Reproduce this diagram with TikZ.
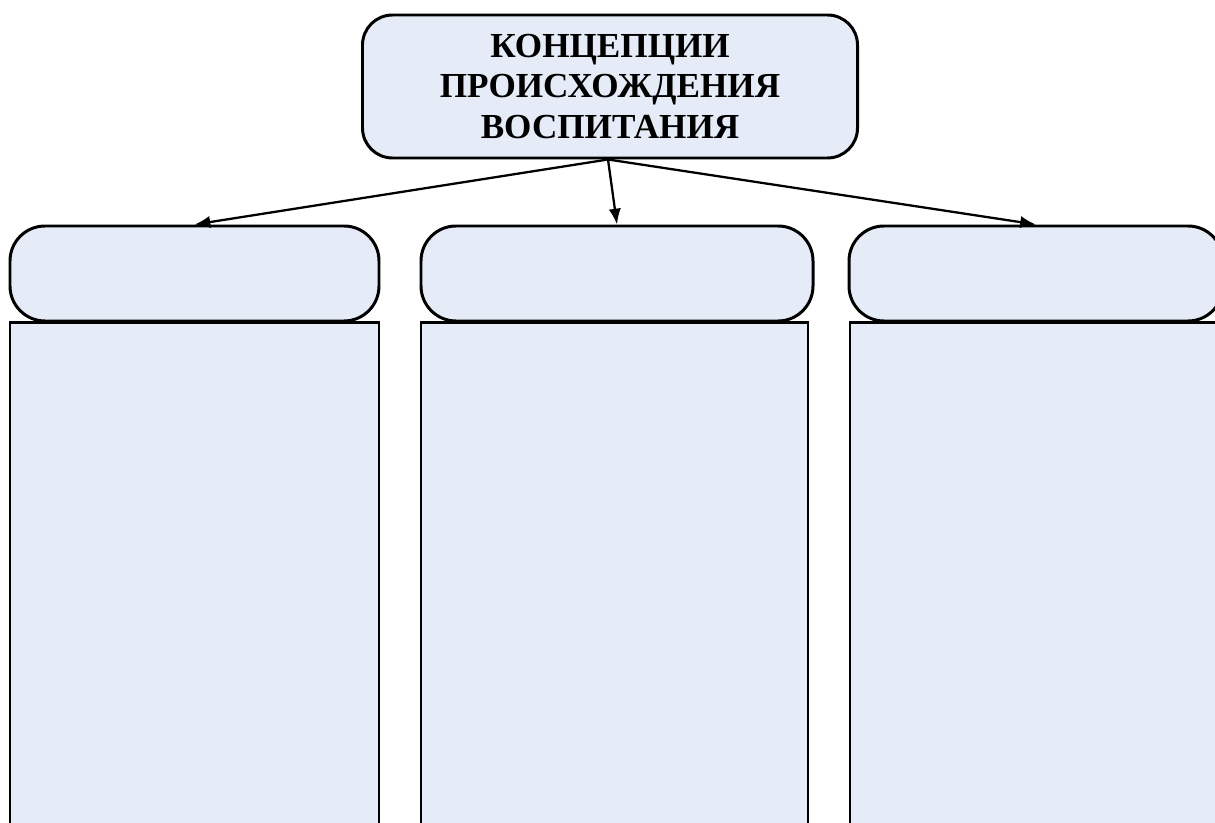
\documentclass[tikz,border=0pt]{standalone}
\usepackage{fontspec}
\setmainfont{Liberation Serif}
\usepackage{tikz}
\usetikzlibrary{arrows.meta}
\usetikzlibrary{positioning}
\definecolor{boxfill}{RGB}{230,236,247}
\tikzset{>=latex}
\tikzstyle{topbox} = [draw, line width=1.7pt, fill=boxfill, rounded corners=0.6cm, align=center, font=\bfseries\fontsize{20}{23.3}\selectfont]
\tikzstyle{headbox} = [draw, line width=1.7pt, fill=boxfill, rounded corners=0.7cm]
\tikzstyle{colbox} = [draw, line width=1.5pt, fill=boxfill, anchor=north]
\tikzstyle{link} = [-{Latex[length=9pt,width=7pt]}, line width=1.3pt]

\begin{document}
\begin{tikzpicture}
\useasboundingbox (0,0) rectangle (24.3,-16.46);
\clip (0,0) rectangle (24.3,-16.46);
\node [topbox, minimum width=9.9cm, minimum height=2.86cm] (T) at (12.2, -1.73) {КОНЦЕПЦИИ\\ПРОИСХОЖДЕНИЯ\\ВОСПИТАНИЯ};
% columns
\node [colbox, minimum width=7.38cm, minimum height=11cm] (C1) at (3.89, -6.42) {};
\node [colbox, minimum width=7.74cm, minimum height=11cm] (C2) at (12.29, -6.42) {};
\node [colbox, minimum width=7.46cm, minimum height=11cm] (C3) at (20.73, -6.42) {};
% headers
\node [headbox, minimum width=7.38cm, minimum height=1.9cm] (H1) at (3.89, -5.47) {};
\node [headbox, minimum width=7.84cm, minimum height=1.9cm] (H2) at (12.34, -5.47) {};
\node [headbox, minimum width=7.48cm, minimum height=1.9cm] (H3) at (20.72, -5.47) {};
\coordinate (S) at ([xshift=-0.04cm]T.south);
\draw [link] (S) -- (H1.north);
\draw [link] (S) -- (H2.north);
\draw [link] (S) -- (H3.north);
\end{tikzpicture}
\end{document}
